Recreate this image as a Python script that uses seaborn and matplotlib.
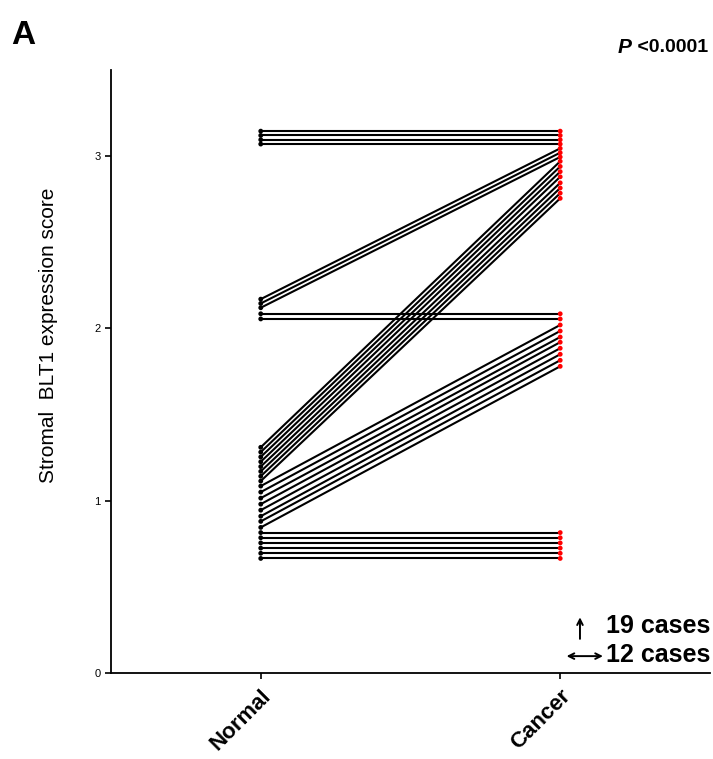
import pandas as pd
import matplotlib.pyplot as plt
import seaborn as sns

# ------------------------------------------------ data ------------------------------------------------

groups = ["Normal", "Cancer"]

# unchanged cases (12)
same_3 = [3.145, 3.12, 3.095, 3.07]
same_2 = [2.085, 2.055]
same_1 = [0.815, 0.785, 0.755, 0.725, 0.695, 0.665]

# increased cases (19)
up_2to3_normal = [2.17, 2.145, 2.12]
up_2to3_cancer = [3.045, 3.02, 2.995]
up_1to3_normal = [1.31, 1.282, 1.254, 1.226, 1.198, 1.17, 1.142, 1.114]
up_1to3_cancer = [2.97, 2.94, 2.91, 2.88, 2.845, 2.815, 2.785, 2.755]
up_1to2_normal = [1.085, 1.05, 1.015, 0.98, 0.945, 0.91, 0.88, 0.845]
up_1to2_cancer = [2.02, 1.985, 1.95, 1.92, 1.885, 1.85, 1.815, 1.78]

# ------------------------------------------------ long table ------------------------------------------------

normal_vals = same_3 + same_2 + same_1 + up_2to3_normal + up_1to3_normal + up_1to2_normal
cancer_vals = same_3 + same_2 + same_1 + up_2to3_cancer + up_1to3_cancer + up_1to2_cancer

rows = []
for i, (n, c) in enumerate(zip(normal_vals, cancer_vals)):
    rows.append({"case": i, "group": groups[0], "score": n})
    rows.append({"case": i, "group": groups[1], "score": c})
df = pd.DataFrame(rows)

# ------------------------------------------------ plot ------------------------------------------------

sns.set_style("ticks")
plt.rcParams["font.family"] = ["Liberation Sans", "DejaVu Sans"]
for k in ["text.color", "axes.labelcolor", "xtick.color", "ytick.color"]:
    plt.rcParams[k] = "black"

fig = plt.figure(figsize=(7.13, 7.59), dpi=100)
ax = fig.add_axes([0.1557, 0.1133, 0.84, 0.7945])

sns.lineplot(data=df, x="group", y="score", units="case", estimator=None, sort=False,
             color="black", linewidth=1.5, ax=ax)
sns.scatterplot(data=df, x="group", y="score", hue="group",
                palette={"Normal": "black", "Cancer": "red"},
                s=12, linewidth=0, legend=False, ax=ax, zorder=3)

ax.set_xlim(-0.5, 1.5)
ax.set_ylim(0, 3.5)
ax.set_yticks([0, 1, 2, 3])
ax.set_yticklabels(["0", "1", "2", "3"], fontsize=8)
ax.set_xticks([0, 1])
ax.set_xticklabels(groups, fontsize=16, fontweight="bold", rotation=45,
                   ha="right", rotation_mode="anchor")
ax.tick_params(axis="both", length=4, width=1.2, color="black")
ax.tick_params(axis="x", pad=5)
for s in ["left", "bottom"]:
    ax.spines[s].set_linewidth(1.3)
    ax.spines[s].set_color("black")
sns.despine(ax=ax)

ax.set_xlabel("")
ax.set_ylabel("Stromal  BLT1 expression score", fontsize=15)
ax.yaxis.set_label_coords(-0.088, 0.56)

# panel letter and p-value
fig.text(0.015, 0.953, "A", fontsize=24, fontweight="bold", va="center", ha="left")
pval = fig.text(0.993, 0.938, " <0.0001", fontsize=14, fontweight="bold",
                va="center", ha="right")
ax.annotate("P", xy=(0, 0.5), xycoords=pval, fontsize=15, fontweight="bold",
            fontstyle="italic", va="center", ha="right", annotation_clip=False)

# case legend with arrows
ax.annotate("", xy=(0.783, 0.097), xytext=(0.783, 0.052), xycoords="axes fraction",
            arrowprops=dict(arrowstyle="->", color="black", lw=1.4))
ax.annotate("", xy=(0.756, 0.028), xytext=(0.826, 0.028), xycoords="axes fraction",
            arrowprops=dict(arrowstyle="<->", color="black", lw=1.4))
ax.text(0.826, 0.078, "19 cases", transform=ax.transAxes, fontsize=18,
        fontweight="bold", va="center", ha="left")
ax.text(0.826, 0.030, "12 cases", transform=ax.transAxes, fontsize=18,
        fontweight="bold", va="center", ha="left")

fig.savefig("out.png", dpi=100)
